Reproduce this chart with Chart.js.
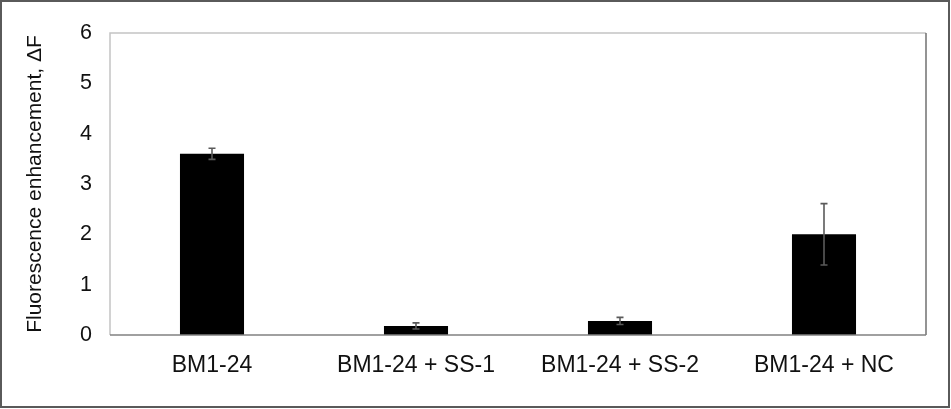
<!DOCTYPE html>
<html>
<head>
<meta charset="utf-8">
<script src="https://cdn.jsdelivr.net/npm/chart.js@4"></script>
<style>
html,body{margin:0;padding:0;background:#fff;}
#wrap{width:951px;height:409px;position:relative;}
</style>
</head>
<body>
<div id="wrap"><canvas id="c" width="951" height="409"></canvas></div>
<script>
const categories = ["BM1-24", "BM1-24 + SS-1", "BM1-24 + SS-2", "BM1-24 + NC"];
const values = [3.6, 0.18, 0.28, 2.0];
const errors = [0.11, 0.06, 0.07, 0.61];
const yTicks = [0, 1, 2, 3, 4, 5, 6];
const yTitle = "Fluorescence enhancement, \u0394F";

const errorBarPlugin = {
  id: 'errorBars',
  afterDatasetsDraw(chart) {
    const ctx = chart.ctx;
    const meta = chart.getDatasetMeta(0);
    const ys = chart.scales.y;
    ctx.save();
    ctx.strokeStyle = '#5a5a5a';
    ctx.lineWidth = 1.6;
    meta.data.forEach((bar, i) => {
      const x = bar.x;
      const yTop = ys.getPixelForValue(values[i] + errors[i]);
      const yBot = ys.getPixelForValue(values[i] - errors[i]);
      ctx.beginPath();
      ctx.moveTo(x, yTop); ctx.lineTo(x, yBot);
      ctx.moveTo(x - 3.5, yTop); ctx.lineTo(x + 3.5, yTop);
      ctx.moveTo(x - 3.5, yBot); ctx.lineTo(x + 3.5, yBot);
      ctx.stroke();
    });
    ctx.restore();
  },
  afterDraw(chart) {
    const ctx = chart.ctx;
    const a = chart.chartArea;
    ctx.save();
    ctx.lineWidth = 1.5;
    ctx.strokeStyle = '#c4c4c4';
    ctx.beginPath();
    ctx.moveTo(a.left, a.bottom); ctx.lineTo(a.left, a.top); ctx.lineTo(a.right, a.top);
    ctx.stroke();
    ctx.strokeStyle = '#707070';
    ctx.beginPath();
    ctx.moveTo(a.right, a.top); ctx.lineTo(a.right, a.bottom);
    ctx.stroke();
    ctx.strokeStyle = '#808080';
    ctx.beginPath();
    ctx.moveTo(a.left, a.bottom); ctx.lineTo(a.right, a.bottom);
    ctx.stroke();
    // outer frame
    ctx.strokeStyle = '#5a5a5a';
    ctx.lineWidth = 2;
    ctx.strokeRect(1, 1, 948, 406);
    ctx.restore();
  }
};

new Chart(document.getElementById('c'), {
  type: 'bar',
  data: {
    labels: categories,
    datasets: [{
      data: values,
      backgroundColor: '#000000',
      borderWidth: 0,
      categoryPercentage: 1.0,
      barPercentage: 0.314
    }]
  },
  options: {
    responsive: false,
    animation: false,
    devicePixelRatio: 1,
    layout: { padding: { left: 0, right: 25, top: 33, bottom: 0 } },
    plugins: { legend: { display: false }, tooltip: { enabled: false } },
    scales: {
      x: {
        grid: { display: false, drawTicks: false },
        border: { display: false },
        ticks: {
          color: '#111111',
          font: { family: 'Liberation Sans, Arial, sans-serif', size: 23 },
          padding: 17,
          maxRotation: 0
        },
        afterFit(s) { s.height = 74; }
      },
      y: {
        min: 0, max: 6,
        grid: { display: false, drawTicks: false },
        border: { display: false },
        afterBuildTicks(s) { s.ticks = yTicks.map(v => ({ value: v })); },
        ticks: {
          color: '#111111',
          font: { family: 'Liberation Sans, Arial, sans-serif', size: 21.5 },
          padding: 18
        },
        title: {
          display: true,
          text: yTitle,
          color: '#111111',
          font: { family: 'Liberation Sans, Arial, sans-serif', size: 21 },
          padding: { top: 23, bottom: 0 }
        },
        afterFit(s) { s.width = 110; }
      }
    }
  },
  plugins: [errorBarPlugin]
});
</script>
</body>
</html>
